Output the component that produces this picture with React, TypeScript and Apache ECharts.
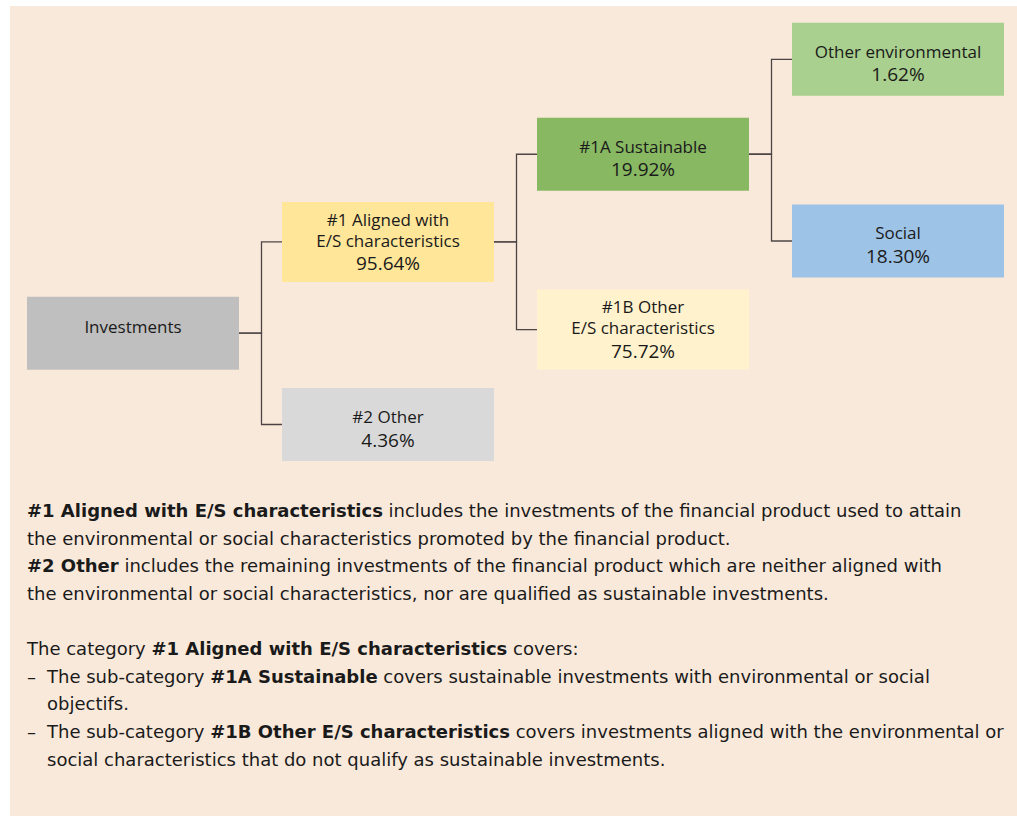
import React, { useEffect, useRef } from "react";
import * as echarts from "echarts";

// ---- data ----
const nodeNames = [
  "Investments",
  "#1 Aligned with\nE/S characteristics",
  "#2 Other",
  "#1A Sustainable",
  "#1B Other\nE/S characteristics",
  "Other environmental",
  "Social",
];
const nodeShares: (number | null)[] = [null, 95.64, 4.36, 19.92, 75.72, 1.62, 18.3];
const nodeParents = [-1, 0, 0, 1, 1, 3, 3];
const nodeLevels = [0, 1, 1, 2, 2, 3, 3];
const nodeRows = [3.0, 2.0, 4.0, 1.04, 2.96, 0, 1.99];

// ---- styles ----
const nodeColors = ["#bfbfbf", "#ffe699", "#d9d9d9", "#88b862", "#fff2cc", "#a9d08e", "#9dc3e6"];
const BOX_FONT = "'Open Sans', 'Noto Sans', sans-serif";
const BODY_FONT = "'DejaVu Sans', sans-serif";
const TXT = "#1a1a1a";
const BOX_W = 212;

type Part = [boolean, string];
const bodyLines: { x: number; dash?: boolean; parts: Part[] }[] = [
  { x: 27, parts: [[true, "#1 Aligned with E/S characteristics"], [false, " includes the investments of the financial product used to attain"]] },
  { x: 27, parts: [[false, "the environmental or social characteristics promoted by the financial product."]] },
  { x: 27, parts: [[true, "#2 Other"], [false, " includes the remaining investments of the financial product which are neither aligned with"]] },
  { x: 27, parts: [[false, "the environmental or social characteristics, nor are qualified as sustainable investments."]] },
  { x: 27, parts: [] },
  { x: 27, parts: [[false, "The category "], [true, "#1 Aligned with E/S characteristics"], [false, " covers:"]] },
  { x: 47, dash: true, parts: [[false, "The sub-category "], [true, "#1A Sustainable"], [false, " covers sustainable investments with environmental or social"]] },
  { x: 47, parts: [[false, "objectifs."]] },
  { x: 47, dash: true, parts: [[false, "The sub-category "], [true, "#1B Other E/S characteristics"], [false, " covers investments aligned with the environmental or"]] },
  { x: 47, parts: [[false, "social characteristics that do not qualify as sustainable investments."]] },
];

export default function App() {
  const ref = useRef<HTMLDivElement>(null);
  useEffect(() => {
    if (!ref.current) return;
    const chart = echarts.init(ref.current, undefined, { renderer: "svg" });

    const boxData = nodeNames.map((_, i) => [nodeLevels[i], nodeRows[i]]);
    const linkData: number[][] = [];
    nodeParents.forEach((p, i) => {
      if (p >= 0) linkData.push([nodeLevels[p], nodeRows[p], nodeLevels[i], nodeRows[i]]);
    });

    const BODY_FS = 18;
    const LH = 27.6;
    const firstBaseline = 517.3;
    const graphics: any[] = [
      { type: "rect", z: -10, shape: { x: 10, y: 6, width: 1007, height: 810 }, style: { fill: "#f9e9da" } },
    ];
    bodyLines.forEach((ln, k) => {
      if (!ln.parts.length) return;
      const baseline = firstBaseline + k * LH;
      const y = baseline - 0.37 * BODY_FS;
      const text = ln.parts.map(([b, s]) => `{${b ? "b" : "r"}|${s}}`).join("");
      graphics.push({
        type: "text",
        x: ln.x,
        y,
        style: {
          text,
          align: "left",
          verticalAlign: "middle",
          rich: {
            b: { fontFamily: BODY_FONT, fontSize: BODY_FS, fontWeight: "bold", fill: TXT, lineHeight: LH },
            r: { fontFamily: BODY_FONT, fontSize: BODY_FS, fill: TXT, lineHeight: LH },
          },
        },
      });
      if (ln.dash) {
        graphics.push({
          type: "text",
          x: 27,
          y,
          style: { text: "–", fontFamily: BODY_FONT, fontSize: BODY_FS, fill: TXT, align: "left", verticalAlign: "middle" },
        });
      }
    });

    chart.setOption({
      animation: false,
      grid: { left: 133, right: 119, top: 59.3, bottom: 816 - 424.5 },
      xAxis: { type: "value", min: 0, max: 3, show: false },
      yAxis: { type: "value", min: 0, max: 4, inverse: true, show: false },
      graphic: graphics,
      series: [
        {
          type: "custom",
          name: "links",
          clip: false,
          z: 2,
          encode: { x: [0, 2], y: [1, 3] },
          data: linkData,
          renderItem: (params: any, api: any) => {
            const a = api.coord([api.value(0), api.value(1)]);
            const b = api.coord([api.value(2), api.value(3)]);
            const x1 = a[0] + BOX_W / 2;
            const x2 = b[0] - BOX_W / 2;
            const xm = Math.round((x1 + x2) / 2) + 0.5;
            return {
              type: "polyline",
              shape: { points: [[x1, a[1]], [xm, a[1]], [xm, b[1]], [x2, b[1]]] },
              style: { stroke: "#4d4545", lineWidth: 1.3, fill: "none" },
            };
          },
        },
        {
          type: "custom",
          name: "boxes",
          clip: false,
          z: 3,
          encode: { x: 0, y: 1 },
          data: boxData,
          renderItem: (params: any, api: any) => {
            const i = params.dataIndex;
            const c = api.coord([api.value(0), api.value(1)]);
            const labelLines = nodeNames[i].split("\n");
            const share = nodeShares[i];
            const nLines = labelLines.length + (share != null ? 1 : 0);
            const h = nLines >= 3 ? 80 : 73;
            let text = labelLines.map((s) => `{l|${s}}`).join("\n");
            if (share != null) text += `\n{p|${share.toFixed(2)}%}`;
            const dy = nLines === 1 ? -7 : nLines >= 3 ? 0.5 : 4.5;
            return {
              type: "group",
              children: [
                {
                  type: "rect",
                  shape: { x: c[0] - BOX_W / 2, y: c[1] - h / 2, width: BOX_W, height: h },
                  style: { fill: nodeColors[i] },
                },
                {
                  type: "text",
                  x: c[0],
                  y: c[1] + dy,
                  style: {
                    text,
                    align: "center",
                    verticalAlign: "middle",
                    rich: {
                      l: { fontFamily: BOX_FONT, fontSize: 17, fill: TXT, lineHeight: 21, align: "center" },
                      p: { fontFamily: BOX_FONT, fontSize: 19, fill: TXT, lineHeight: 25.5, align: "center" },
                    },
                  },
                },
              ],
            };
          },
        },
      ],
    });
    return () => chart.dispose();
  }, []);
  return (
    <div
      ref={ref}
      style={{ position: "fixed", left: 0, top: 0, width: 1017, height: 816, background: "#ffffff" }}
    />
  );
}
